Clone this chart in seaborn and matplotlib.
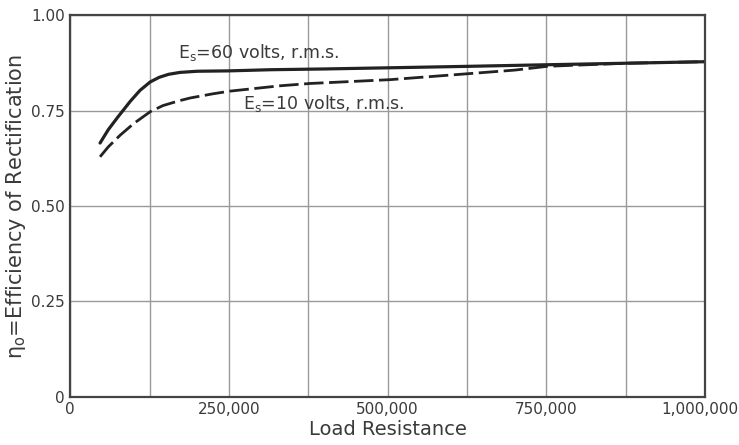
import seaborn as sns
import matplotlib.pyplot as plt
import matplotlib.ticker as mticker
import matplotlib.transforms as mtrans
import pandas as pd

sns.set_style("white")

# values
load_60v = [47000, 60000, 75000, 95000, 110000, 126000, 140000, 155000, 173000,
            200000, 250000, 315000, 400000, 500000, 630000, 750000, 875000, 1000000]
eff_60v = [0.665, 0.700, 0.733, 0.775, 0.803, 0.825, 0.837, 0.845, 0.850,
           0.853, 0.854, 0.857, 0.859, 0.862, 0.866, 0.870, 0.874, 0.878]
load_10v = [47000, 60000, 79000, 100000, 126000, 146000, 170000, 189000, 225000,
            252000, 331000, 378000, 504000, 630000, 700000, 752000, 875000, 1000000]
eff_10v = [0.629, 0.655, 0.686, 0.716, 0.747, 0.763, 0.775, 0.783, 0.794,
           0.801, 0.815, 0.821, 0.831, 0.847, 0.856, 0.866, 0.874, 0.878]

x_ticks = [0, 250000, 500000, 750000, 1000000]
x_ticklabels = ["0", "250,000", "500,000", "750,000", "1,000,000"]
y_ticks = [0, 0.25, 0.5, 0.75, 1.0]
y_ticklabels = ["0", "0.25", "0.50", "0.75", "1.00"]

df60 = pd.DataFrame({"load": load_60v, "eff": eff_60v})
df10 = pd.DataFrame({"load": load_10v, "eff": eff_10v})

ink = "#3a3a3a"
fig = plt.figure(figsize=(7.39, 4.45), dpi=100)
ax = fig.add_axes([0.095, 0.108, 0.859, 0.858])

sns.lineplot(data=df60, x="load", y="eff", ax=ax, color="#222222", lw=2.3)
sns.lineplot(data=df10, x="load", y="eff", ax=ax, color="#222222", lw=2.0,
             linestyle=(0, (7, 2)))

ax.set_xlim(0, 1000000)
ax.set_ylim(0, 1.0)
ax.set_xticks(x_ticks)
ax.set_xticklabels(x_ticklabels)
ax.set_yticks(y_ticks)
ax.set_yticklabels(y_ticklabels)
ax.xaxis.set_minor_locator(mticker.MultipleLocator(125000))
ax.grid(True, which="both", axis="x", color="#9a9a9a", lw=1.0)
ax.grid(True, which="major", axis="y", color="#9a9a9a", lw=1.0)
ax.tick_params(axis="both", which="both", length=0, labelsize=11,
               labelcolor=ink, pad=4)

# nudge last x label so it stays inside the figure
last = ax.get_xticklabels()[-1]
last.set_transform(last.get_transform() +
                   mtrans.ScaledTranslation(-5 / 100, 0, fig.dpi_scale_trans))

for s in ax.spines.values():
    s.set_color("#444444")
    s.set_linewidth(1.6)

ax.set_xlabel("Load Resistance", fontsize=14, color=ink, labelpad=2)
ax.set_ylabel(r"$\mathregular{\eta_o}$=Efficiency of Rectification",
              fontsize=15, color=ink, labelpad=2)

ax.text(170000, 0.875, r"$\mathregular{E_s}$=60 volts, r.m.s.",
        fontsize=12.5, color=ink, va="bottom")
ax.text(272000, 0.74, r"$\mathregular{E_s}$=10 volts, r.m.s.",
        fontsize=12.5, color=ink, va="bottom")

fig.savefig("out.png", dpi=100)
